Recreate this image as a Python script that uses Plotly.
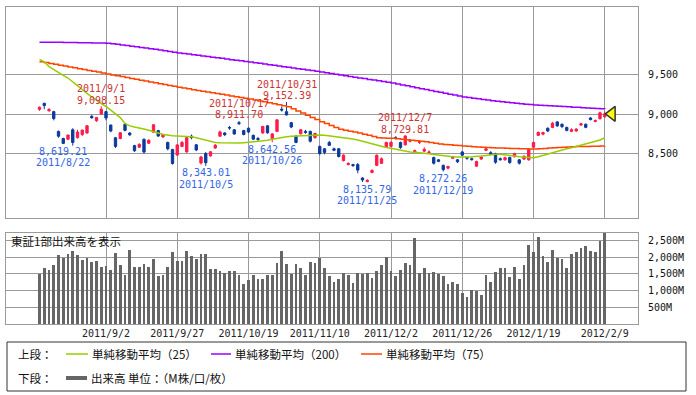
import plotly.graph_objects as go

dates = ["2011/8/15","2011/8/16","2011/8/17","2011/8/18","2011/8/19","2011/8/22","2011/8/23","2011/8/24","2011/8/25","2011/8/26","2011/8/29","2011/8/30","2011/8/31","2011/9/1","2011/9/2",
         "2011/9/5","2011/9/6","2011/9/7","2011/9/8","2011/9/9","2011/9/12","2011/9/13","2011/9/14","2011/9/15","2011/9/16","2011/9/20","2011/9/21","2011/9/22","2011/9/26","2011/9/27",
         "2011/9/28","2011/9/29","2011/9/30","2011/10/3","2011/10/4","2011/10/5","2011/10/6","2011/10/7","2011/10/11","2011/10/12","2011/10/13","2011/10/14","2011/10/17","2011/10/18","2011/10/19",
         "2011/10/20","2011/10/21","2011/10/24","2011/10/25","2011/10/26","2011/10/27","2011/10/28","2011/10/31","2011/11/1","2011/11/2","2011/11/4","2011/11/7","2011/11/8","2011/11/9","2011/11/10",
         "2011/11/11","2011/11/14","2011/11/15","2011/11/16","2011/11/17","2011/11/18","2011/11/21","2011/11/22","2011/11/24","2011/11/25","2011/11/28","2011/11/29","2011/11/30","2011/12/1","2011/12/2",
         "2011/12/5","2011/12/6","2011/12/7","2011/12/8","2011/12/9","2011/12/12","2011/12/13","2011/12/14","2011/12/15","2011/12/16","2011/12/19","2011/12/20","2011/12/21","2011/12/22","2011/12/26",
         "2011/12/27","2011/12/28","2011/12/29","2011/12/30","2012/1/4","2012/1/5","2012/1/6","2012/1/10","2012/1/11","2012/1/12","2012/1/13","2012/1/16","2012/1/17","2012/1/18","2012/1/19",
         "2012/1/20","2012/1/23","2012/1/24","2012/1/25","2012/1/26","2012/1/27","2012/1/30","2012/1/31","2012/2/1","2012/2/2","2012/2/3","2012/2/6","2012/2/7","2012/2/8","2012/2/9"]

opens = [9058,9135,9040,9030,8780,8690,8680,8800,8700,8740,8760,8970,8915,9000,9030,
         8860,8700,8690,8870,8760,8600,8580,8680,8630,8770,8790,8710,8640,8550,8480,
         8590,8520,8720,8610,8380,8500,8470,8570,8720,8760,8830,8800,8890,8790,8820,
         8730,8690,8760,8850,8690,8780,9060,9030,8890,8720,8750,8780,8780,8700,8590,
         8560,8640,8560,8560,8410,8360,8360,8360,8190,8145,8260,8350,8375,8580,8590,
         8700,8640,8610,8655,8520,8640,8530,8510,8450,8420,8350,8315,8440,8420,8520,
         8450,8435,8340,8430,8540,8510,8500,8435,8420,8450,8460,8420,8430,8420,8580,
         8730,8745,8820,8830,8900,8870,8830,8780,8785,8860,8870,8950,8905,8940,8965]
highs = [9095,9143,9075,9040,8790,8700,8740,8820,8800,8800,8860,8990,8960,9098.15,9040,
         8865,8710,8770,8880,8770,8610,8630,8690,8680,8870,8800,8750,8650,8560,8620,
         8660,8720,8740,8620,8470,8520,8530,8620,8790,8770,8850,8810,8911.70,8800,8830,
         8740,8710,8850,8860,8760,8935,9090,9152.39,8900,8730,8810,8800,8790,8760,8600,
         8570,8660,8575,8570,8490,8390,8370,8380,8200,8175,8300,8490,8450,8650,8650,
         8720,8650,8729.81,8680,8550,8670,8580,8540,8460,8430,8360,8345,8470,8430,8530,
         8460,8450,8410,8465,8580,8530,8510,8450,8460,8460,8510,8430,8475,8560,8650,
         8780,8775,8830,8900,8910,8880,8840,8820,8820,8890,8880,8960,8930,9030,9030]
lows = [9040,9060,9030,8920,8700,8619.21,8670,8600,8690,8720,8750,8940,8900,8990,8920,
        8770,8570,8680,8780,8720,8520,8570,8500,8620,8760,8710,8700,8540,8360,8470,
        8580,8510,8680,8530,8360,8343.01,8460,8560,8710,8720,8800,8740,8860,8730,8760,
        8670,8660,8750,8750,8642.56,8770,9030,8980,8820,8630,8740,8750,8640,8690,8480,
        8490,8600,8530,8450,8400,8350,8330,8250,8140,8135.79,8250,8340,8370,8570,8580,
        8680,8560,8600,8640,8510,8620,8520,8500,8360,8390,8272.26,8300,8430,8380,8470,
        8420,8410,8330,8420,8530,8480,8370,8410,8410,8370,8450,8360,8420,8410,8570,
        8720,8730,8770,8820,8840,8820,8780,8770,8775,8850,8820,8920,8895,8930,8950]
closes = [9086,9107,9057,8943,8719,8628,8733,8639,8772,8797,8851,8953,8955,9060,8950,
          8784,8590,8763,8793,8737,8535,8616,8518,8668,8864,8721,8741,8560,8374,8609,
          8640,8701,8700,8545,8456,8383,8522,8605,8773,8738,8823,8747,8879,8741,8772,
          8682,8678,8843,8762,8748,8926,9050,8988,8835,8640,8801,8767,8655,8755,8500,
          8514,8603,8541,8463,8479,8374,8348,8290,8165,8160,8287,8477,8434,8640,8643,
          8695,8575,8722,8664,8536,8653,8552,8519,8377,8401,8296,8336,8459,8395,8479,
          8440,8423,8398,8455,8560,8488,8390,8422,8447,8385,8500,8378,8466,8550,8639,
          8766,8765,8785,8883,8849,8841,8793,8802,8809,8876,8831,8929,8917,9015,9002]

ma25 = [9692,9660,9600,9560,9525,9490,9455,9405,9350,9300,9260,9215,9170,9130,9095,
        9050,9005,8955,8880,8850,8835,8825,8810,8795,8780,8760,8740,8730,8725,8722,
        8720,8716,8713,8700,8685,8665,8650,8640,8635,8632,8630,8629,8632,8637,8642,
        8648,8654,8660,8668,8680,8692,8703,8712,8718,8722,8725,8728,8730,8733,8734,
        8732,8725,8718,8712,8704,8694,8684,8672,8655,8640,8622,8605,8590,8576,8566,
        8553,8540,8526,8520,8515,8511,8506,8496,8487,8478,8470,8464,8458,8455,8452,
        8455,8458,8460,8468,8476,8484,8490,8490,8480,8472,8468,8460,8453,8448,8447,
        8460,8478,8490,8505,8525,8544,8560,8573,8590,8605,8620,8632,8650,8672,8700]
ma200 = [9908,9908,9908,9908,9907,9906,9905,9904,9903,9902,9901,9900,9898,9897,9895,
         9889,9882,9874,9866,9858,9850,9842,9834,9826,9818,9810,9801,9792,9782,9772,
         9765,9758,9750,9742,9734,9727,9719,9712,9704,9696,9688,9681,9673,9665,9658,
         9650,9641,9633,9624,9616,9608,9599,9591,9582,9574,9566,9557,9549,9540,9532,
         9522,9512,9503,9494,9484,9475,9466,9457,9448,9438,9429,9420,9410,9401,9392,
         9380,9368,9356,9344,9333,9321,9309,9297,9286,9274,9262,9250,9239,9227,9215,
         9208,9200,9192,9184,9176,9169,9162,9155,9148,9141,9135,9129,9124,9119,9114,
         9111,9108,9105,9101,9098,9094,9091,9087,9084,9080,9077,9074,9070,9067,9063]
ma75 = [9662,9651,9640,9629,9618,9607,9596,9585,9574,9563,9552,9541,9530,9518,9506,
        9495,9484,9473,9461,9450,9439,9428,9417,9406,9394,9383,9372,9361,9350,9338,
        9328,9318,9308,9298,9288,9279,9269,9259,9249,9239,9229,9219,9209,9200,9190,
        9178,9166,9154,9142,9129,9117,9105,9093,9066,9039,9012,8985,8957,8930,8903,
        8879,8855,8830,8806,8795,8783,8772,8760,8745,8730,8715,8700,8697,8694,8692,
        8686,8680,8674,8667,8661,8655,8649,8639,8630,8620,8615,8610,8605,8600,8595,
        8591,8587,8584,8580,8577,8573,8571,8569,8567,8565,8563,8561,8560,8558,8557,
        8561,8565,8569,8573,8576,8580,8583,8586,8588,8589,8590,8592,8593,8594,8595]

volumes = [1500,1692,1631,1773,2075,1995,2106,2206,2075,1934,1995,1873,1903,1722,1753,
           1621,2146,1773,1470,2227,1712,1712,1803,1712,1954,1449,1470,1712,2176,1894,
           1894,2197,2045,1954,2096,2096,1651,1651,1591,1530,1591,1591,1470,1187,1318,
           1470,1348,1348,1470,1470,1833,2197,1803,1500,1803,1682,1470,1863,1833,1995,
           1682,1439,1247,1348,1530,1470,1217,1520,1500,1520,1389,1591,1773,2015,1591,
           1439,1621,1833,1773,2601,1520,1682,1520,1560,1500,1439,1197,1257,1197,924,
           813,1015,985,864,1470,1257,1560,1682,1682,1409,1712,1348,1773,2379,2177,
           2621,2045,1863,2227,1985,1954,1682,2106,2166,2288,2348,2207,2166,2510,2732]

high_marks = [13, 42, 52, 77]
low_marks = [5, 35, 49, 69, 85]
tick_idx = [14, 29, 44, 59, 74, 89, 104, 119]
price_ticks = [8500, 9000, 9500]
vol_ticks = [500, 1000, 1500, 2000, 2500]

n = len(closes)
assert all(len(a) == n for a in [dates, opens, highs, lows, ma25, ma75, ma200, volumes])
idx = list(range(n))

RED = "#ff1a4b"
BLUE = "#0b3a9c"
MONO = "DejaVu Sans Mono"
JP = "Noto Sans CJK JP"

W, H = 696, 395
L, R, T, B = 6, 58, 7, 71
PH = H - T - B
PW = W - L - R


def px(xp):
    return (xp - L) / PW


def py(yp):
    return (H - B - yp) / PH


fig = go.Figure()
fig.add_trace(go.Candlestick(
    x=idx, open=opens, high=highs, low=lows, close=closes,
    increasing=dict(line=dict(color=RED, width=1), fillcolor=RED),
    decreasing=dict(line=dict(color=BLUE, width=1), fillcolor=BLUE),
    whiskerwidth=0, xaxis="x", yaxis="y", showlegend=False, hoverinfo="skip"))
fig.add_trace(go.Scatter(x=idx, y=ma200, mode="lines", line=dict(color="#9900ff", width=1.5, shape="hv"),
                         xaxis="x", yaxis="y", showlegend=False, hoverinfo="skip"))
fig.add_trace(go.Scatter(x=idx, y=ma75, mode="lines", line=dict(color="#ff4400", width=1.5, shape="hv"),
                         xaxis="x", yaxis="y", showlegend=False, hoverinfo="skip"))
fig.add_trace(go.Scatter(x=idx, y=ma25, mode="lines", line=dict(color="#99cc00", width=1.5),
                         xaxis="x", yaxis="y", showlegend=False, hoverinfo="skip"))
fig.add_trace(go.Scatter(x=[n - 1 + 1.5], y=[closes[-1]], mode="markers",
                         marker=dict(symbol="triangle-left", size=13, color="#ffff00",
                                     line=dict(color="#333333", width=1.5)),
                         xaxis="x", yaxis="y", showlegend=False, hoverinfo="skip"))
fig.add_trace(go.Bar(x=idx, y=volumes, marker=dict(color="#666666", line=dict(width=0)), width=0.62,
                     xaxis="x2", yaxis="y2", showlegend=False, hoverinfo="skip"))

annotations = []
for i in high_marks:
    annotations.append(dict(x=i, y=highs[i], xref="x", yref="y", text=f"{highs[i]:,.2f}", showarrow=False,
                            yshift=6, font=dict(family=MONO, size=10, color="#cc3333")))
    annotations.append(dict(x=i, y=highs[i], xref="x", yref="y", text=dates[i], showarrow=False,
                            yshift=17.5, font=dict(family=MONO, size=10, color="#cc3333")))
for i in low_marks:
    annotations.append(dict(x=i, y=lows[i], xref="x", yref="y", text=f"{lows[i]:,.2f}", showarrow=False,
                            yshift=-7, font=dict(family=MONO, size=10, color="#3366e6")))
    annotations.append(dict(x=i, y=lows[i], xref="x", yref="y", text=dates[i], showarrow=False,
                            yshift=-18.5, font=dict(family=MONO, size=10, color="#3366e6")))

annotations.append(dict(x=px(9), y=py(241), xref="paper", yref="paper", text="東証1部出来高を表示",
                        showarrow=False, xanchor="left", yanchor="middle",
                        font=dict(family=JP, size=11.5, color="#111111")))

# legend box
shapes = [dict(type="rect", xref="paper", yref="paper", x0=px(7), x1=px(686), y0=py(391), y1=py(342),
               line=dict(color="#333333", width=1), fillcolor="rgba(0,0,0,0)")]
leg_font = dict(family=JP, size=11.5, color="#111111")
row1, row2 = 354, 378
annotations.append(dict(x=px(16), y=py(row1), xref="paper", yref="paper", text="上段：", showarrow=False,
                        xanchor="left", yanchor="middle", font=leg_font))
annotations.append(dict(x=px(16), y=py(row2), xref="paper", yref="paper", text="下段：", showarrow=False,
                        xanchor="left", yanchor="middle", font=leg_font))
items = [(66, 88, "#99cc00", "単純移動平均（25）"),
         (211, 231, "#9900ff", "単純移動平均（200）"),
         (361, 382, "#ff4400", "単純移動平均（75）")]
for x0, x1, c, t in items:
    shapes.append(dict(type="line", xref="paper", yref="paper", x0=px(x0), x1=px(x1), y0=py(row1), y1=py(row1),
                       line=dict(color=c, width=1.5)))
    annotations.append(dict(x=px(x1 + 2), y=py(row1), xref="paper", yref="paper", text=t, showarrow=False,
                            xanchor="left", yanchor="middle", font=leg_font))
shapes.append(dict(type="line", xref="paper", yref="paper", x0=px(66), x1=px(87), y0=py(row2), y1=py(row2),
                   line=dict(color="#666666", width=4)))
annotations.append(dict(x=px(89), y=py(row2), xref="paper", yref="paper", text="出来高 単位：（M株/口/枚）",
                        showarrow=False, xanchor="left", yanchor="middle", font=leg_font))

GRID = "#9a9a9a"
xr = [(L - (39.5)) / 4.75, (W - R - 39.5) / 4.75]

fig.update_layout(
    width=W, height=H, margin=dict(l=L, r=R, t=T, b=B),
    paper_bgcolor="white", plot_bgcolor="white",
    bargap=0, showlegend=False,
    annotations=annotations, shapes=shapes,
    xaxis=dict(domain=[0, 1], anchor="y", range=xr, tickvals=tick_idx, showticklabels=False,
               showgrid=True, gridcolor=GRID, gridwidth=1, showline=True, linecolor=GRID, mirror=True,
               zeroline=False, rangeslider=dict(visible=False), ticks=""),
    yaxis=dict(domain=[py(218), 1], anchor="x", side="right", range=[7684, 10354],
               tickvals=price_ticks, ticktext=[f"{v:,}" for v in price_ticks],
               showgrid=True, gridcolor=GRID, showline=True, linecolor=GRID, mirror=True, zeroline=False,
               ticks="outside", ticklen=7, tickcolor="rgba(0,0,0,0)",
               tickfont=dict(family=MONO, size=10, color="#111111")),
    xaxis2=dict(domain=[0, 1], anchor="y2", matches="x", range=xr, tickvals=tick_idx,
                ticktext=[dates[i] for i in tick_idx], showgrid=True, gridcolor=GRID,
                showline=True, linecolor=GRID, mirror=True, zeroline=False, ticks="",
                tickfont=dict(family=MONO, size=10, color="#222222")),
    yaxis2=dict(domain=[0, py(233)], anchor="x2", side="right", range=[-15, 2742],
                tickvals=vol_ticks, ticktext=[f"{v:,}M" for v in vol_ticks],
                showgrid=True, gridcolor=GRID, showline=True, linecolor=GRID, mirror=True, zeroline=False,
                ticks="outside", ticklen=7, tickcolor="rgba(0,0,0,0)",
                tickfont=dict(family=MONO, size=10, color="#111111")),
)

fig.write_html("out.html", config={"displayModeBar": False},
               post_script="document.body.style.margin='0px';document.body.style.overflow='hidden';")
